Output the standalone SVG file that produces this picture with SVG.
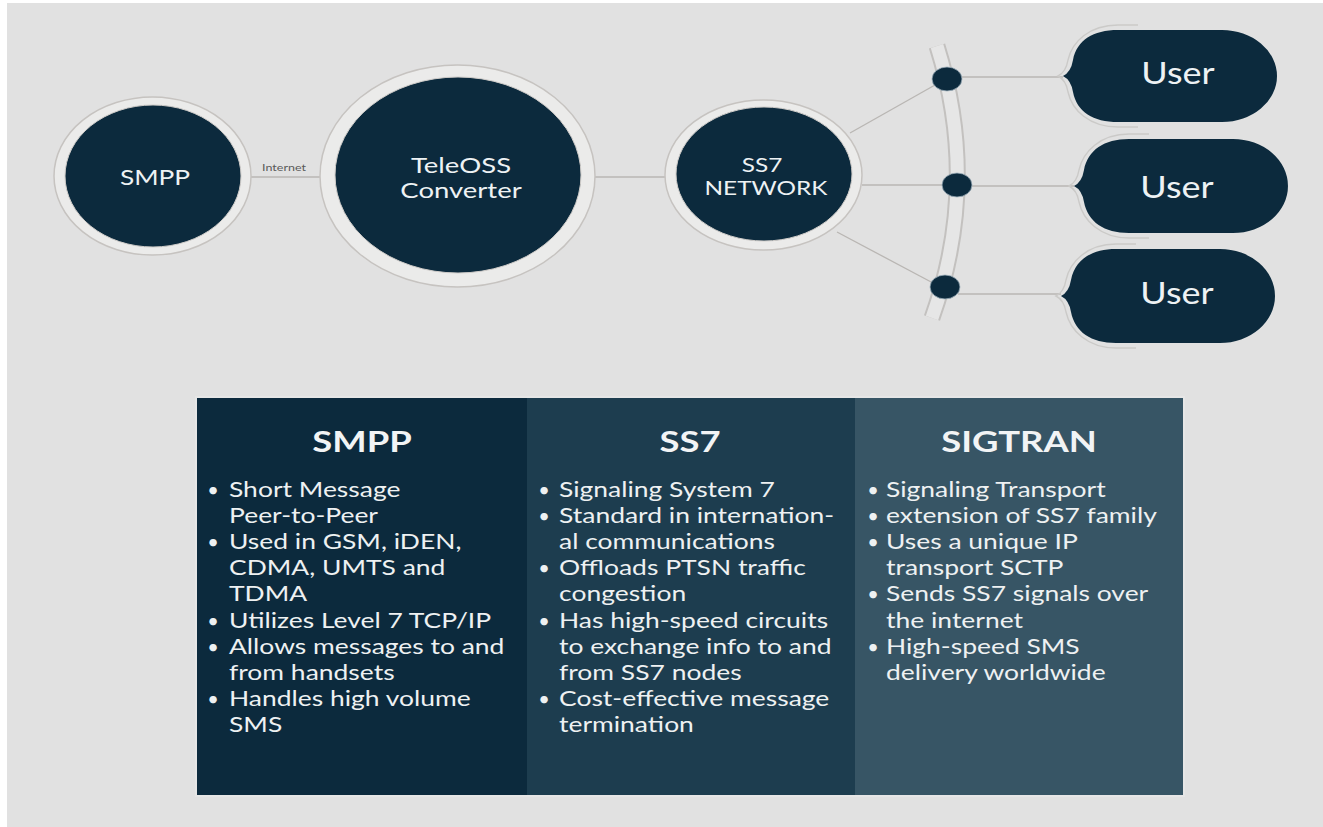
<svg xmlns="http://www.w3.org/2000/svg" width="1323" height="827" viewBox="0 0 1323 827">
<style>
.ring{fill:#ebebea;stroke:#c6c3c0;stroke-width:1.5}
.core{fill:#0c2a3d;stroke:#cfccc9;stroke-width:1}
.lbl{font-family:Lato,"Open Sans","Liberation Sans",sans-serif;fill:#eef2f4;text-anchor:middle}
.conn{stroke:#b9b6b3;stroke-width:1.3;fill:none}
.dot{fill:#0c2a3d;stroke:#9fb1bd;stroke-width:0.8}
.bub{fill:#0c2a3d}
.bubo{fill:none;stroke:#cbcac8;stroke-width:1.4}
.hd{font-family:Lato,"Open Sans","Liberation Sans",sans-serif;font-weight:bold;font-size:28px;fill:#f2f4f5;text-anchor:middle}
.tx{font-family:Lato,"Open Sans","Liberation Sans",sans-serif;font-size:21px;fill:#eef1f2}
.bl{font-family:Lato,"Open Sans","Liberation Sans",sans-serif;font-size:20px;fill:#eef1f2;text-anchor:middle}
</style>
<rect width="1323" height="827" fill="#ffffff"/>
<rect x="7" y="3" width="1316" height="824" fill="#e1e1e1"/>

<g id="connectors">
  <line class="conn" x1="251" y1="177" x2="320" y2="177"/>
  <text class="lbl" font-size="10" style="fill:#5a5a5a" transform="translate(284,171) scale(1.25,1)">Internet</text>
  <line class="conn" x1="595" y1="177" x2="665" y2="177"/>
  <line class="conn" x1="850" y1="133" x2="935" y2="85"/>
  <line class="conn" x1="862" y1="185" x2="945" y2="185"/>
  <line class="conn" x1="837" y1="232" x2="933" y2="283"/>
  <line class="conn" x1="960" y1="77" x2="1063" y2="77"/>
  <line class="conn" x1="970" y1="186" x2="1074" y2="186"/>
  <line class="conn" x1="958" y1="294" x2="1061" y2="294"/>
</g>

<g id="node-smpp">
  <ellipse class="ring" cx="152.5" cy="176" rx="98.5" ry="79"/>
  <ellipse class="core" cx="153" cy="176" rx="88" ry="71"/>
  <text class="lbl" font-size="21" transform="translate(155,185) scale(1.25,1)">SMPP</text>
</g>

<g id="node-teleoss">
  <ellipse class="ring" cx="457.5" cy="176" rx="137.5" ry="111"/>
  <ellipse class="core" cx="458" cy="175" rx="123" ry="98"/>
  <text class="lbl" font-size="22" transform="translate(461,173) scale(1.25,1)">TeleOSS</text>
  <text class="lbl" font-size="22" transform="translate(461,198) scale(1.25,1)">Converter</text>
</g>

<g id="node-ss7">
  <ellipse class="ring" cx="763.5" cy="175" rx="98.5" ry="75"/>
  <ellipse class="core" cx="764" cy="174" rx="88" ry="67"/>
  <text class="lbl" font-size="19.5" transform="translate(762,172) scale(1.25,1)">SS7</text>
  <text class="lbl" font-size="19.5" transform="translate(766,195) scale(1.25,1)">NETWORK</text>
</g>

<g id="node-hub">
  <path d="M937,46 Q980,183 932,318" fill="none" stroke="#c3c1bf" stroke-width="17"/>
  <path d="M937,46 Q980,183 932,318" fill="none" stroke="#e6e6e6" stroke-width="13"/>
  <ellipse class="dot" cx="947" cy="79" rx="15" ry="12"/>
  <ellipse class="dot" cx="957" cy="185" rx="15" ry="12"/>
  <ellipse class="dot" cx="945" cy="287" rx="15" ry="12"/>
</g>

<g id="node-user1">
  <path class="bubo" d="M1138,25 H1118 C1089,25 1072,42 1068,60 Q1066,72 1058,76 Q1066,80 1068,92 C1072,110 1089,127 1118,127 H1138"/>
  <path class="bub" d="M1063,76 Q1071,72 1073,60 C1077,40 1093,30 1118,30 H1222 A55 46 0 0 1 1222,122 H1118 C1093,122 1077,112 1073,92 Q1071,80 1063,76 Z"/>
  <text class="lbl" font-size="30" transform="translate(1178,84) scale(1.2,1)">User</text>
</g>

<g id="node-user2">
  <path class="bubo" d="M1149,134 H1129 C1100,134 1083,152 1079,170 Q1077,182 1069,186 Q1077,190 1079,202 C1083,220 1100,238 1129,238 H1149"/>
  <path class="bub" d="M1074,186 Q1082,182 1084,170 C1088,150 1104,139 1129,139 H1233 A55 47 0 0 1 1233,233 H1129 C1104,233 1088,222 1084,202 Q1082,190 1074,186 Z"/>
  <text class="lbl" font-size="30" transform="translate(1177,198) scale(1.2,1)">User</text>
</g>

<g id="node-user3">
  <path class="bubo" d="M1136,244 H1116 C1087,244 1070,262 1066,280 Q1064,292 1056,296 Q1064,300 1066,312 C1070,330 1087,348 1116,348 H1136"/>
  <path class="bub" d="M1061,296 Q1069,292 1071,280 C1075,260 1091,249 1116,249 H1220 A55 47 0 0 1 1220,343 H1116 C1091,343 1075,332 1071,312 Q1069,300 1061,296 Z"/>
  <text class="lbl" font-size="30" transform="translate(1177,304) scale(1.2,1)">User</text>
</g>

<g id="table">
  <rect x="195" y="396" width="990" height="401" fill="#f2f2f2" opacity="0.35"/>
  <g id="col-smpp">
    <rect x="197" y="398" width="330" height="397" fill="#0c2a3d"/>
    <text class="hd" transform="translate(362,452) scale(1.3,1)">SMPP</text>
    <text class="bl" x="213" y="497">•</text>
    <text class="tx" transform="translate(229,497) scale(1.26,1)">Short Message</text>
    <text class="tx" transform="translate(229,523) scale(1.26,1)">Peer-to-Peer</text>
    <text class="bl" x="213" y="549">•</text>
    <text class="tx" transform="translate(229,549) scale(1.26,1)">Used in GSM, iDEN,</text>
    <text class="tx" transform="translate(229,575) scale(1.26,1)">CDMA, UMTS and</text>
    <text class="tx" transform="translate(229,601) scale(1.26,1)">TDMA</text>
    <text class="bl" x="213" y="628">•</text>
    <text class="tx" transform="translate(229,628) scale(1.26,1)">Utilizes Level 7 TCP/IP</text>
    <text class="bl" x="213" y="654">•</text>
    <text class="tx" transform="translate(229,654) scale(1.26,1)">Allows messages to and</text>
    <text class="tx" transform="translate(229,680) scale(1.26,1)">from handsets</text>
    <text class="bl" x="213" y="706">•</text>
    <text class="tx" transform="translate(229,706) scale(1.26,1)">Handles high volume</text>
    <text class="tx" transform="translate(229,732) scale(1.26,1)">SMS</text>
  </g>
  <g id="col-ss7">
    <rect x="527" y="398" width="328" height="397" fill="#1d3d4f"/>
    <text class="hd" transform="translate(690,452) scale(1.3,1)">SS7</text>
    <text class="bl" x="544" y="497">•</text>
    <text class="tx" transform="translate(559,497) scale(1.26,1)">Signaling System 7</text>
    <text class="bl" x="544" y="523">•</text>
    <text class="tx" transform="translate(559,523) scale(1.26,1)">Standard in internation-</text>
    <text class="tx" transform="translate(559,549) scale(1.26,1)">al communications</text>
    <text class="bl" x="544" y="575">•</text>
    <text class="tx" transform="translate(559,575) scale(1.26,1)">Offloads PTSN traffic</text>
    <text class="tx" transform="translate(559,601) scale(1.26,1)">congestion</text>
    <text class="bl" x="544" y="628">•</text>
    <text class="tx" transform="translate(559,628) scale(1.26,1)">Has high-speed circuits</text>
    <text class="tx" transform="translate(559,654) scale(1.26,1)">to exchange info to and</text>
    <text class="tx" transform="translate(559,680) scale(1.26,1)">from SS7 nodes</text>
    <text class="bl" x="544" y="706">•</text>
    <text class="tx" transform="translate(559,706) scale(1.26,1)">Cost-effective message</text>
    <text class="tx" transform="translate(559,732) scale(1.26,1)">termination</text>
  </g>
  <g id="col-sigtran">
    <rect x="855" y="398" width="328" height="397" fill="#375565"/>
    <text class="hd" transform="translate(1019,452) scale(1.3,1)">SIGTRAN</text>
    <text class="bl" x="873" y="497">•</text>
    <text class="tx" transform="translate(886,497) scale(1.26,1)">Signaling Transport</text>
    <text class="bl" x="873" y="523">•</text>
    <text class="tx" transform="translate(886,523) scale(1.26,1)">extension of SS7 family</text>
    <text class="bl" x="873" y="549">•</text>
    <text class="tx" transform="translate(886,549) scale(1.26,1)">Uses a unique IP</text>
    <text class="tx" transform="translate(886,575) scale(1.26,1)">transport SCTP</text>
    <text class="bl" x="873" y="601">•</text>
    <text class="tx" transform="translate(886,601) scale(1.26,1)">Sends SS7 signals over</text>
    <text class="tx" transform="translate(886,628) scale(1.26,1)">the internet</text>
    <text class="bl" x="873" y="654">•</text>
    <text class="tx" transform="translate(886,654) scale(1.26,1)">High-speed SMS</text>
    <text class="tx" transform="translate(886,680) scale(1.26,1)">delivery worldwide</text>
  </g>
</g>
</svg>
